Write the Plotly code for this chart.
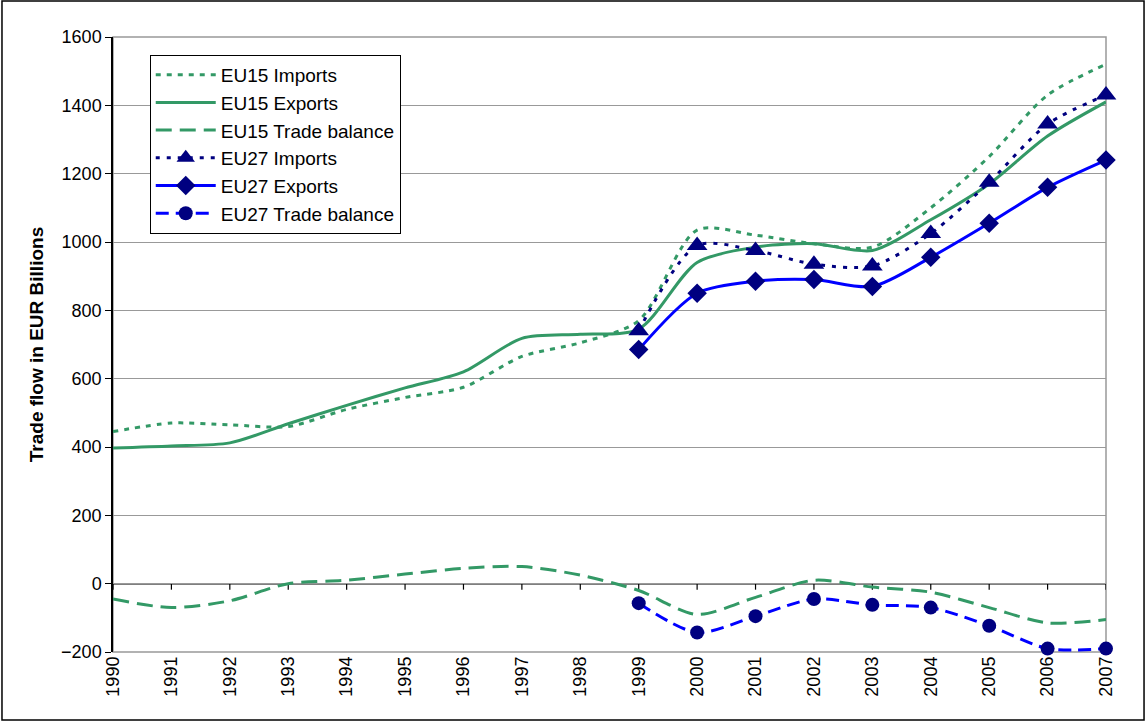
import plotly.graph_objects as go

years = list(range(1990, 2008))
years27 = list(range(1999, 2008))

eu15_imports = [445, 470, 465, 460, 510, 545, 575, 665, 705, 770, 1035, 1020, 995, 985, 1100, 1250, 1430, 1520]
eu15_exports = [397, 403, 412, 468, 522, 573, 620, 718, 730, 745, 940, 985, 995, 975, 1065, 1170, 1310, 1410]
eu15_balance = [-45, -70, -50, 0, 10, 28, 45, 50, 25, -20, -90, -40, 10, -10, -25, -70, -115, -105]

eu27_imports = [740, 990, 975, 935, 930, 1025, 1175, 1345, 1430]
eu27_exports = [685, 850, 885, 890, 870, 955, 1055, 1160, 1240]
eu27_balance = [-57, -143, -95, -45, -62, -70, -123, -190, -190]

GREEN = "#339966"
NAVY = "#000080"
BLUE = "#0000FF"
FONT = "Arial, Liberation Sans, sans-serif"

fig = go.Figure()

def add(name, x, y, color, dash, marker=None, mcolor=NAVY, msize=13):
    kw = dict(
        x=x, y=y, name=name,
        mode="lines+markers" if marker else "lines",
        line=dict(color=color, width=3, dash=dash, shape="spline", smoothing=0.8),
        cliponaxis=False,
    )
    if marker:
        kw["marker"] = dict(symbol=marker, size=msize, color=mcolor, line=dict(width=0))
    fig.add_trace(go.Scatter(**kw))

add("EU15 Imports", years, eu15_imports, GREEN, "5px,6px")
add("EU15 Exports", years, eu15_exports, GREEN, "solid")
add("EU15 Trade balance", years, eu15_balance, GREEN, "16px,8px")
add("EU27 Imports", years27, eu27_imports, NAVY, "4px,7px", "triangle-up", msize=18)
add("EU27 Exports", years27, eu27_exports, BLUE, "solid", "diamond", msize=15)
add("EU27 Trade balance", years27, eu27_balance, BLUE, "13px,7px", "circle", msize=14)

shapes = [
    dict(type="rect", xref="paper", yref="paper", x0=0, x1=1, y0=0, y1=1,
         line=dict(color="#999999", width=1.5), layer="below"),
    dict(type="rect", xref="paper", yref="paper", x0=-0.1118, x1=1.0383, y0=-0.1106, y1=1.0585,
         line=dict(color="black", width=1.5), layer="below"),
    dict(type="line", xref="paper", yref="y", x0=0, x1=1, y0=0, y1=0,
         line=dict(color="black", width=1.5), layer="below"),
]
for yr in years:
    shapes.append(dict(type="line", xref="x", yref="y", ysizemode="pixel", yanchor=0,
                       x0=yr, x1=yr, y0=0, y1=-6, line=dict(color="black", width=1.2), layer="below"))

fig.update_layout(
    width=1146, height=723,
    margin=dict(l=113, r=40, t=37, b=71),
    paper_bgcolor="white", plot_bgcolor="white",
    font=dict(family=FONT, size=18, color="black"),
    showlegend=True,
    legend=dict(x=0.037, y=0.971, xanchor="left", yanchor="top",
                bgcolor="white", bordercolor="black", borderwidth=1,
                font=dict(family=FONT, size=19, color="black"), itemwidth=60),
    shapes=shapes,
    xaxis=dict(range=[1990, 2007], tickmode="array", tickvals=years,
               ticktext=[str(y) for y in years], tickangle=-90,
               showgrid=False, zeroline=False, showline=False,
               ticks="", tickfont=dict(family=FONT, size=18)),
    yaxis=dict(range=[-200, 1600], dtick=200, tick0=0,
               showgrid=True, gridcolor="#999999", gridwidth=1.3,
               zeroline=False, showline=True, linecolor="black", linewidth=1.5,
               ticks="outside", ticklen=6, tickcolor="black",
               tickfont=dict(family=FONT, size=18),
               title=dict(text="<b>Trade flow in EUR Billions</b>", font=dict(family=FONT, size=19), standoff=12)),
)

fig.write_html("out.html", config={"displayModeBar": False},
               post_script="document.body.style.margin='0';document.body.style.overflow='hidden';")
